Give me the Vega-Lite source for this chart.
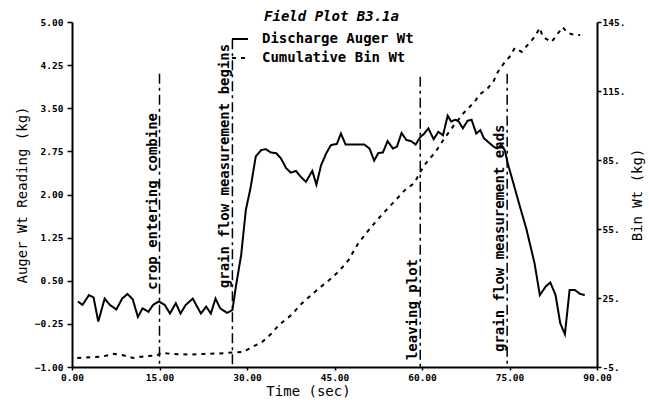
{
  "$schema": "https://vega.github.io/schema/vega-lite/v6.json",
  "width": 525,
  "height": 345,
  "autosize": "none",
  "padding": {"left": 72, "top": 22, "right": 52, "bottom": 33},
  "background": "white",
  "title": {"text": "Field Plot B3.1a", "font": "DejaVu Sans Mono", "fontSize": 14, "fontStyle": "italic", "fontWeight": "bold", "color": "black", "anchor": "middle", "offset": -7, "dx": -3},
  "config": {
    "view": {"stroke": null},
    "axis": {"grid": false, "domainColor": "black", "tickColor": "black", "labelColor": "black", "titleColor": "black", "labelFont": "DejaVu Sans Mono", "titleFont": "DejaVu Sans Mono", "labelFontWeight": "bold", "titleFontWeight": "normal", "labelFontSize": 9.5, "titleFontSize": 14, "domainWidth": 2, "tickWidth": 1.5, "labelFlush": false, "labelOverlap": false}
  },
  "datasets": {
    "auger": [
      {"t": 1.0, "v": 0.14, "series": "Discharge Auger Wt"},
      {"t": 1.8, "v": 0.08, "series": "Discharge Auger Wt"},
      {"t": 2.9, "v": 0.25, "series": "Discharge Auger Wt"},
      {"t": 3.7, "v": 0.21, "series": "Discharge Auger Wt"},
      {"t": 4.5, "v": -0.21, "series": "Discharge Auger Wt"},
      {"t": 5.6, "v": 0.19, "series": "Discharge Auger Wt"},
      {"t": 6.5, "v": 0.08, "series": "Discharge Auger Wt"},
      {"t": 7.6, "v": 0.0, "series": "Discharge Auger Wt"},
      {"t": 8.6, "v": 0.19, "series": "Discharge Auger Wt"},
      {"t": 9.5, "v": 0.27, "series": "Discharge Auger Wt"},
      {"t": 10.4, "v": 0.18, "series": "Discharge Auger Wt"},
      {"t": 11.3, "v": -0.13, "series": "Discharge Auger Wt"},
      {"t": 12.1, "v": 0.02, "series": "Discharge Auger Wt"},
      {"t": 13.1, "v": -0.04, "series": "Discharge Auger Wt"},
      {"t": 13.9, "v": 0.08, "series": "Discharge Auger Wt"},
      {"t": 14.9, "v": 0.14, "series": "Discharge Auger Wt"},
      {"t": 15.9, "v": 0.08, "series": "Discharge Auger Wt"},
      {"t": 16.8, "v": -0.07, "series": "Discharge Auger Wt"},
      {"t": 17.8, "v": 0.11, "series": "Discharge Auger Wt"},
      {"t": 18.6, "v": -0.07, "series": "Discharge Auger Wt"},
      {"t": 19.5, "v": 0.08, "series": "Discharge Auger Wt"},
      {"t": 20.7, "v": 0.19, "series": "Discharge Auger Wt"},
      {"t": 22.1, "v": -0.07, "series": "Discharge Auger Wt"},
      {"t": 23.0, "v": 0.05, "series": "Discharge Auger Wt"},
      {"t": 23.8, "v": -0.07, "series": "Discharge Auger Wt"},
      {"t": 24.6, "v": 0.19, "series": "Discharge Auger Wt"},
      {"t": 25.4, "v": 0.02, "series": "Discharge Auger Wt"},
      {"t": 26.6, "v": -0.06, "series": "Discharge Auger Wt"},
      {"t": 27.5, "v": -0.01, "series": "Discharge Auger Wt"},
      {"t": 28.1, "v": 0.4, "series": "Discharge Auger Wt"},
      {"t": 29.0, "v": 0.95, "series": "Discharge Auger Wt"},
      {"t": 29.8, "v": 1.73, "series": "Discharge Auger Wt"},
      {"t": 30.6, "v": 2.11, "series": "Discharge Auger Wt"},
      {"t": 31.5, "v": 2.66, "series": "Discharge Auger Wt"},
      {"t": 32.4, "v": 2.77, "series": "Discharge Auger Wt"},
      {"t": 33.2, "v": 2.79, "series": "Discharge Auger Wt"},
      {"t": 34.1, "v": 2.73, "series": "Discharge Auger Wt"},
      {"t": 35.0, "v": 2.72, "series": "Discharge Auger Wt"},
      {"t": 35.8, "v": 2.63, "series": "Discharge Auger Wt"},
      {"t": 36.7, "v": 2.46, "series": "Discharge Auger Wt"},
      {"t": 37.5, "v": 2.38, "series": "Discharge Auger Wt"},
      {"t": 38.4, "v": 2.41, "series": "Discharge Auger Wt"},
      {"t": 39.2, "v": 2.31, "series": "Discharge Auger Wt"},
      {"t": 40.1, "v": 2.22, "series": "Discharge Auger Wt"},
      {"t": 41.2, "v": 2.41, "series": "Discharge Auger Wt"},
      {"t": 41.9, "v": 2.17, "series": "Discharge Auger Wt"},
      {"t": 42.7, "v": 2.51, "series": "Discharge Auger Wt"},
      {"t": 43.6, "v": 2.72, "series": "Discharge Auger Wt"},
      {"t": 44.4, "v": 2.86, "series": "Discharge Auger Wt"},
      {"t": 45.4, "v": 2.88, "series": "Discharge Auger Wt"},
      {"t": 46.1, "v": 3.06, "series": "Discharge Auger Wt"},
      {"t": 46.9, "v": 2.87, "series": "Discharge Auger Wt"},
      {"t": 48.5, "v": 2.87, "series": "Discharge Auger Wt"},
      {"t": 50.1, "v": 2.87, "series": "Discharge Auger Wt"},
      {"t": 51.0, "v": 2.8, "series": "Discharge Auger Wt"},
      {"t": 51.8, "v": 2.59, "series": "Discharge Auger Wt"},
      {"t": 52.5, "v": 2.72, "series": "Discharge Auger Wt"},
      {"t": 53.3, "v": 2.73, "series": "Discharge Auger Wt"},
      {"t": 54.1, "v": 2.93, "series": "Discharge Auger Wt"},
      {"t": 55.0, "v": 2.8, "series": "Discharge Auger Wt"},
      {"t": 55.7, "v": 2.83, "series": "Discharge Auger Wt"},
      {"t": 56.5, "v": 3.07, "series": "Discharge Auger Wt"},
      {"t": 57.3, "v": 2.95, "series": "Discharge Auger Wt"},
      {"t": 58.1, "v": 2.93, "series": "Discharge Auger Wt"},
      {"t": 58.9, "v": 2.87, "series": "Discharge Auger Wt"},
      {"t": 59.8, "v": 3.01, "series": "Discharge Auger Wt"},
      {"t": 60.3, "v": 3.05, "series": "Discharge Auger Wt"},
      {"t": 61.1, "v": 3.15, "series": "Discharge Auger Wt"},
      {"t": 62.0, "v": 2.96, "series": "Discharge Auger Wt"},
      {"t": 62.8, "v": 3.09, "series": "Discharge Auger Wt"},
      {"t": 63.6, "v": 3.03, "series": "Discharge Auger Wt"},
      {"t": 64.4, "v": 3.37, "series": "Discharge Auger Wt"},
      {"t": 65.0, "v": 3.27, "series": "Discharge Auger Wt"},
      {"t": 65.7, "v": 3.3, "series": "Discharge Auger Wt"},
      {"t": 66.3, "v": 3.27, "series": "Discharge Auger Wt"},
      {"t": 67.0, "v": 3.15, "series": "Discharge Auger Wt"},
      {"t": 67.8, "v": 3.28, "series": "Discharge Auger Wt"},
      {"t": 68.5, "v": 3.3, "series": "Discharge Auger Wt"},
      {"t": 69.3, "v": 3.06, "series": "Discharge Auger Wt"},
      {"t": 70.0, "v": 3.12, "series": "Discharge Auger Wt"},
      {"t": 70.6, "v": 2.98, "series": "Discharge Auger Wt"},
      {"t": 71.5, "v": 2.9, "series": "Discharge Auger Wt"},
      {"t": 72.3, "v": 2.83, "series": "Discharge Auger Wt"},
      {"t": 72.9, "v": 2.8, "series": "Discharge Auger Wt"},
      {"t": 73.6, "v": 2.86, "series": "Discharge Auger Wt"},
      {"t": 74.2, "v": 2.77, "series": "Discharge Auger Wt"},
      {"t": 74.7, "v": 2.54, "series": "Discharge Auger Wt"},
      {"t": 75.6, "v": 2.22, "series": "Discharge Auger Wt"},
      {"t": 76.7, "v": 1.82, "series": "Discharge Auger Wt"},
      {"t": 77.9, "v": 1.4, "series": "Discharge Auger Wt"},
      {"t": 79.3, "v": 0.8, "series": "Discharge Auger Wt"},
      {"t": 80.2, "v": 0.25, "series": "Discharge Auger Wt"},
      {"t": 81.2, "v": 0.4, "series": "Discharge Auger Wt"},
      {"t": 82.0, "v": 0.47, "series": "Discharge Auger Wt"},
      {"t": 82.9, "v": 0.25, "series": "Discharge Auger Wt"},
      {"t": 83.7, "v": -0.24, "series": "Discharge Auger Wt"},
      {"t": 84.5, "v": -0.43, "series": "Discharge Auger Wt"},
      {"t": 85.3, "v": 0.34, "series": "Discharge Auger Wt"},
      {"t": 86.2, "v": 0.34, "series": "Discharge Auger Wt"},
      {"t": 87.1, "v": 0.27, "series": "Discharge Auger Wt"},
      {"t": 87.9, "v": 0.25, "series": "Discharge Auger Wt"}
    ],
    "bin": [
      {"t": 0.9, "b": -1.1, "series": "Cumulative Bin Wt"},
      {"t": 3.4, "b": -0.7, "series": "Cumulative Bin Wt"},
      {"t": 5.3, "b": -0.4, "series": "Cumulative Bin Wt"},
      {"t": 7.1, "b": 0.7, "series": "Cumulative Bin Wt"},
      {"t": 8.6, "b": 0.2, "series": "Cumulative Bin Wt"},
      {"t": 10.5, "b": -1.1, "series": "Cumulative Bin Wt"},
      {"t": 12.8, "b": -0.2, "series": "Cumulative Bin Wt"},
      {"t": 14.6, "b": 0.0, "series": "Cumulative Bin Wt"},
      {"t": 15.2, "b": 1.1, "series": "Cumulative Bin Wt"},
      {"t": 17.3, "b": 0.7, "series": "Cumulative Bin Wt"},
      {"t": 19.9, "b": 0.4, "series": "Cumulative Bin Wt"},
      {"t": 22.6, "b": 0.7, "series": "Cumulative Bin Wt"},
      {"t": 25.2, "b": 0.9, "series": "Cumulative Bin Wt"},
      {"t": 27.6, "b": 1.3, "series": "Cumulative Bin Wt"},
      {"t": 29.3, "b": 1.5, "series": "Cumulative Bin Wt"},
      {"t": 30.9, "b": 3.7, "series": "Cumulative Bin Wt"},
      {"t": 32.6, "b": 5.9, "series": "Cumulative Bin Wt"},
      {"t": 34.1, "b": 9.3, "series": "Cumulative Bin Wt"},
      {"t": 35.5, "b": 13.3, "series": "Cumulative Bin Wt"},
      {"t": 37.6, "b": 17.6, "series": "Cumulative Bin Wt"},
      {"t": 39.3, "b": 22.4, "series": "Cumulative Bin Wt"},
      {"t": 41.0, "b": 26.3, "series": "Cumulative Bin Wt"},
      {"t": 42.4, "b": 29.3, "series": "Cumulative Bin Wt"},
      {"t": 44.1, "b": 32.8, "series": "Cumulative Bin Wt"},
      {"t": 45.8, "b": 36.7, "series": "Cumulative Bin Wt"},
      {"t": 47.4, "b": 41.5, "series": "Cumulative Bin Wt"},
      {"t": 49.0, "b": 48.5, "series": "Cumulative Bin Wt"},
      {"t": 50.6, "b": 53.7, "series": "Cumulative Bin Wt"},
      {"t": 52.3, "b": 58.9, "series": "Cumulative Bin Wt"},
      {"t": 53.9, "b": 63.3, "series": "Cumulative Bin Wt"},
      {"t": 55.5, "b": 67.6, "series": "Cumulative Bin Wt"},
      {"t": 57.1, "b": 72.0, "series": "Cumulative Bin Wt"},
      {"t": 58.7, "b": 75.0, "series": "Cumulative Bin Wt"},
      {"t": 59.7, "b": 79.8, "series": "Cumulative Bin Wt"},
      {"t": 60.7, "b": 83.7, "series": "Cumulative Bin Wt"},
      {"t": 62.3, "b": 88.5, "series": "Cumulative Bin Wt"},
      {"t": 63.9, "b": 94.6, "series": "Cumulative Bin Wt"},
      {"t": 65.5, "b": 100.2, "series": "Cumulative Bin Wt"},
      {"t": 67.3, "b": 105.9, "series": "Cumulative Bin Wt"},
      {"t": 69.0, "b": 110.2, "series": "Cumulative Bin Wt"},
      {"t": 69.8, "b": 113.3, "series": "Cumulative Bin Wt"},
      {"t": 71.3, "b": 116.3, "series": "Cumulative Bin Wt"},
      {"t": 72.2, "b": 118.9, "series": "Cumulative Bin Wt"},
      {"t": 73.0, "b": 123.3, "series": "Cumulative Bin Wt"},
      {"t": 74.2, "b": 127.6, "series": "Cumulative Bin Wt"},
      {"t": 75.0, "b": 129.8, "series": "Cumulative Bin Wt"},
      {"t": 75.9, "b": 133.7, "series": "Cumulative Bin Wt"},
      {"t": 77.1, "b": 132.0, "series": "Cumulative Bin Wt"},
      {"t": 78.1, "b": 135.0, "series": "Cumulative Bin Wt"},
      {"t": 79.3, "b": 138.5, "series": "Cumulative Bin Wt"},
      {"t": 80.2, "b": 142.4, "series": "Cumulative Bin Wt"},
      {"t": 80.7, "b": 138.5, "series": "Cumulative Bin Wt"},
      {"t": 82.2, "b": 136.3, "series": "Cumulative Bin Wt"},
      {"t": 83.1, "b": 139.3, "series": "Cumulative Bin Wt"},
      {"t": 84.1, "b": 142.8, "series": "Cumulative Bin Wt"},
      {"t": 85.0, "b": 140.2, "series": "Cumulative Bin Wt"},
      {"t": 86.2, "b": 139.3, "series": "Cumulative Bin Wt"},
      {"t": 87.1, "b": 139.3, "series": "Cumulative Bin Wt"}
    ],
    "events": [
      {"t": 15.0, "top": 4.1, "start": 0.34, "label": "crop entering combine"},
      {"t": 27.5, "top": 4.7, "start": 0.37, "label": "grain flow measurement begins"},
      {"t": 59.7, "top": 4.05, "start": -0.88, "label": "leaving plot"},
      {"t": 74.6, "top": 4.1, "start": -0.74, "label": "grain flow measurement ends"}
    ]
  },
  "layer": [
    {
      "layer": [
        {
          "data": {"name": "auger"},
          "mark": {"type": "line", "color": "black", "strokeWidth": 2},
          "encoding": {
            "x": {"field": "t", "type": "quantitative", "scale": {"domain": [0, 90], "nice": false},
                  "axis": {"values": [0, 15, 30, 45, 60, 75, 90], "format": ".2f", "title": "Time (sec)", "titleX": 236, "tickSize": 3, "labelPadding": 2, "titlePadding": 3}},
            "y": {"field": "v", "type": "quantitative", "scale": {"domain": [-1, 5], "nice": false, "zero": false},
                  "axis": {"values": [-1, -0.25, 0.5, 1.25, 2, 2.75, 3.5, 4.25, 5], "format": ".2f", "title": "Auger Wt Reading (kg)", "tickSize": 5, "labelPadding": 4, "titlePadding": 5}},
            "strokeDash": {"field": "series", "type": "nominal",
                  "scale": {"domain": ["Discharge Auger Wt", "Cumulative Bin Wt"], "range": [[1, 0], [4, 5]]},
                  "legend": {"orient": "none", "legendX": 159, "legendY": 8, "title": null, "symbolType": "M-1,0L1,0", "symbolSize": 256, "symbolStrokeWidth": 2, "symbolStrokeColor": "black", "symbolFillColor": "transparent", "labelFont": "DejaVu Sans Mono", "labelFontSize": 14, "labelFontWeight": "bold", "labelColor": "black", "labelOffset": 13, "rowPadding": 3, "padding": 0}}
          }
        },
        {
          "data": {"name": "events"},
          "mark": {"type": "rule", "color": "black", "strokeWidth": 1.5, "strokeDash": [10, 4, 3, 4]},
          "encoding": {
            "x": {"field": "t", "type": "quantitative"},
            "y": {"field": "top", "type": "quantitative"},
            "y2": {"datum": -1}
          }
        },
        {
          "data": {"name": "events"},
          "mark": {"type": "text", "angle": 270, "align": "left", "baseline": "bottom", "font": "DejaVu Sans Mono", "fontSize": 14, "fontWeight": "bold", "color": "black"},
          "encoding": {
            "x": {"field": "t", "type": "quantitative"},
            "y": {"field": "start", "type": "quantitative"},
            "text": {"field": "label"}
          }
        }
      ]
    },
    {
      "data": {"name": "bin"},
      "mark": {"type": "line", "color": "black", "strokeWidth": 2},
      "encoding": {
        "x": {"field": "t", "type": "quantitative"},
        "y": {"field": "b", "type": "quantitative", "scale": {"domain": [-5, 145], "nice": false, "zero": false},
              "axis": {"orient": "right", "values": [-5, 25, 55, 85, 115, 145], "labelExpr": "datum.value + '.'", "title": "Bin Wt (kg)", "titleAngle": 270, "tickSize": 4, "labelPadding": 1, "titlePadding": 20}},
        "strokeDash": {"field": "series", "type": "nominal"}
      }
    }
  ],
  "resolve": {"scale": {"y": "independent"}}
}
